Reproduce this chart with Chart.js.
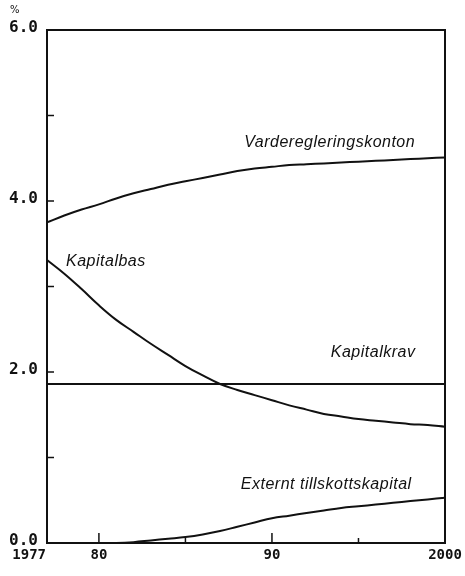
<!DOCTYPE html>
<html lang="sv">
<head>
<meta charset="UTF-8">
<title>Kapitalbas</title>
<script src="https://cdn.jsdelivr.net/npm/chart.js"></script>
<style>
  html, body { margin: 0; padding: 0; background: #fff; }
  #wrap { width: 465px; height: 576px; }
</style>
</head>
<body>
<div id="wrap"><canvas id="chart" width="465" height="576"></canvas></div>
<script>
// data, one value per year
const years = [1977, 1978, 1979, 1980, 1981, 1982, 1983, 1984, 1985, 1986, 1987, 1988,
               1989, 1990, 1991, 1992, 1993, 1994, 1995, 1996, 1997, 1998, 1999, 2000];
const vardereglering = [3.75, 3.83, 3.90, 3.96, 4.03, 4.09, 4.14, 4.19, 4.23, 4.27, 4.31, 4.35,
                        4.38, 4.40, 4.42, 4.43, 4.44, 4.45, 4.46, 4.47, 4.48, 4.49, 4.50, 4.51];
const kapitalbas = [3.31, 3.15, 2.97, 2.78, 2.61, 2.47, 2.33, 2.20, 2.07, 1.96, 1.86, 1.79,
                    1.73, 1.67, 1.61, 1.56, 1.51, 1.48, 1.45, 1.43, 1.41, 1.39, 1.38, 1.36];
const kapitalkrav = [1.86, 1.86, 1.86, 1.86, 1.86, 1.86, 1.86, 1.86, 1.86, 1.86, 1.86, 1.86,
                     1.86, 1.86, 1.86, 1.86, 1.86, 1.86, 1.86, 1.86, 1.86, 1.86, 1.86, 1.86];
const externt = [null, null, null, 0.0, 0.0, 0.01, 0.03, 0.05, 0.07, 0.10, 0.14, 0.19,
                 0.24, 0.29, 0.32, 0.35, 0.38, 0.41, 0.43, 0.45, 0.47, 0.49, 0.51, 0.53];

const yTicks = [0, 2, 4, 6];
const yMinorTicks = [1, 2, 3, 4, 5];
const xTicks = [1977, 1980, 1990, 2000];
const xTickLabels = ['1977', '80', '90', '2000'];
const xMinorTicks = [1980, 1985, 1990, 1995];

// curve names, placed at [year, value] of the text's left/middle
const seriesLabels = [
  { text: 'Vardereglerings\u00adkonton', at: [1988.4, 4.68] },
  { text: 'Kapitalbas', at: [1978.1, 3.29] },
  { text: 'Kapitalkrav', at: [1993.4, 2.23] },
  { text: 'Externt tillskottskapital', at: [1988.2, 0.68] }
];

const ink = '#111';

function pts(values) {
  return years.map((y, i) => ({ x: y, y: values[i] }));
}

const decor = {
  id: 'decor',
  afterDraw(chart) {
    const ctx = chart.ctx;
    const xs = chart.scales.x, ys = chart.scales.y;
    const a = chart.chartArea;
    ctx.save();
    ctx.strokeStyle = ink;
    ctx.lineWidth = 2;
    ctx.strokeRect(a.left, a.top, a.right - a.left, a.bottom - a.top);

    // inward ticks
    ctx.lineWidth = 1.5;
    yMinorTicks.forEach(v => {
      const p = ys.getPixelForValue(v);
      ctx.beginPath(); ctx.moveTo(a.left, p); ctx.lineTo(a.left + 7, p); ctx.stroke();
    });
    xMinorTicks.forEach(v => {
      const p = xs.getPixelForValue(v);
      const len = (v % 10 === 0) ? 10 : 5;
      ctx.beginPath(); ctx.moveTo(p, a.bottom); ctx.lineTo(p, a.bottom - len); ctx.stroke();
    });

    // x tick labels
    ctx.fillStyle = ink;
    ctx.font = 'bold 14px "DejaVu Sans Mono"';
    ctx.textBaseline = 'middle';
    xTicks.forEach((v, i) => {
      const p = xs.getPixelForValue(v);
      if (i === 0) { ctx.textAlign = 'right'; ctx.fillText(xTickLabels[i], p - 1, a.bottom + 12); }
      else { ctx.textAlign = 'center'; ctx.fillText(xTickLabels[i], p, a.bottom + 12); }
    });

    // unit
    ctx.font = '10px "DejaVu Sans"';
    ctx.textAlign = 'left';
    ctx.fillText('%', 10, 10);

    // curve names
    ctx.font = 'italic 16px "Liberation Sans"';
    ctx.letterSpacing = '0.5px';
    seriesLabels.forEach(l => {
      ctx.fillText(l.text, xs.getPixelForValue(l.at[0]), ys.getPixelForValue(l.at[1]));
    });
    ctx.restore();
  }
};

const lineStyle = { borderColor: ink, borderWidth: 2, pointRadius: 0, tension: 0.4, fill: false };

new Chart(document.getElementById('chart'), {
  type: 'line',
  data: {
    datasets: [
      Object.assign({ label: 'Vardereglerings\u00adkonton', data: pts(vardereglering) }, lineStyle),
      Object.assign({ label: 'Kapitalbas', data: pts(kapitalbas) }, lineStyle),
      Object.assign({ label: 'Kapitalkrav', data: pts(kapitalkrav) }, lineStyle, { tension: 0 }),
      Object.assign({ label: 'Externt tillskottskapital', data: pts(externt) }, lineStyle)
    ]
  },
  options: {
    responsive: false,
    animation: false,
    layout: { padding: { top: 30, right: 20, left: 0, bottom: 0 } },
    plugins: { legend: { display: false }, tooltip: { enabled: false } },
    scales: {
      x: {
        type: 'linear',
        min: 1977, max: 2000,
        grid: { display: false, drawTicks: false },
        border: { display: false },
        ticks: { display: false },
        afterBuildTicks: s => { s.ticks = xTicks.map(v => ({ value: v })); },
        afterFit: s => { s.height = 33; }
      },
      y: {
        min: 0, max: 6,
        grid: { display: false, drawTicks: false },
        border: { display: false },
        afterBuildTicks: s => { s.ticks = yTicks.map(v => ({ value: v })); },
        ticks: {
          color: ink,
          font: { family: 'DejaVu Sans Mono', size: 16, weight: 'bold' },
          padding: 9,
          labelOffset: -2,
          callback: v => v.toFixed(1)
        },
        afterFit: s => { s.width = 47; }
      }
    }
  },
  plugins: [decor]
});
</script>
</body>
</html>
